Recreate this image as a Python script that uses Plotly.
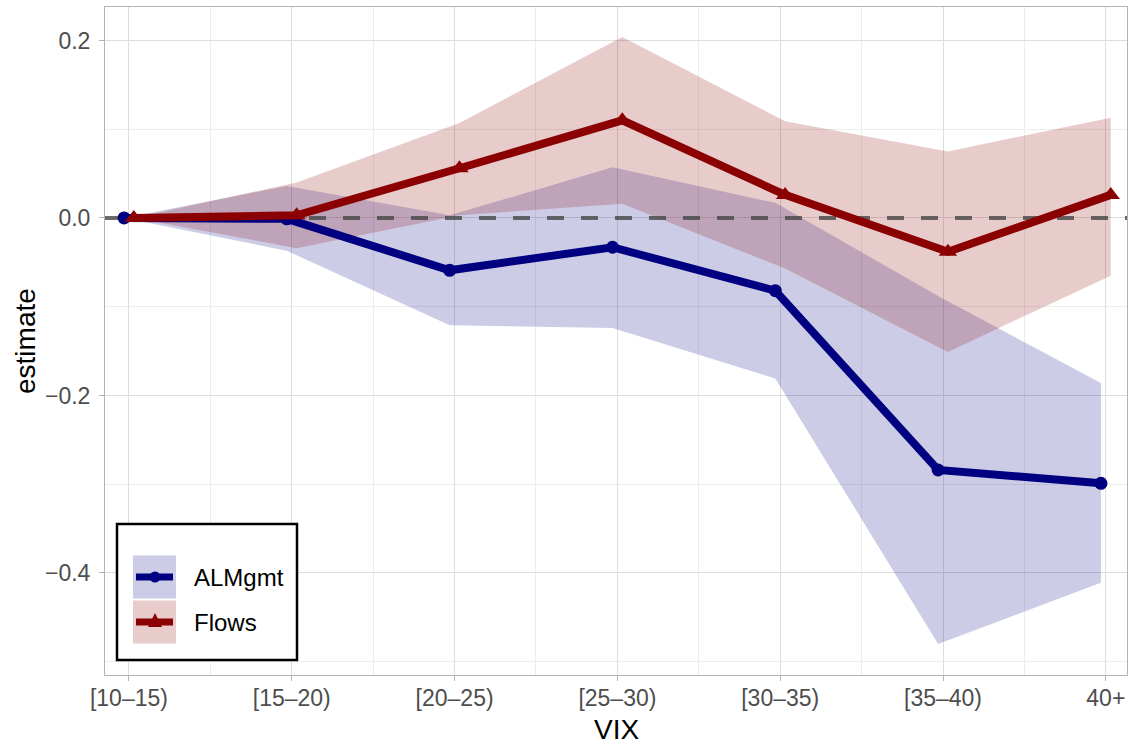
import plotly.graph_objects as go

# ---------------- data ----------------
categories = ["[10–15)", "[15–20)", "[20–25)", "[25–30)", "[30–35)", "[35–40)", "40+"]

alm_est = [0.0, -0.001, -0.059, -0.033, -0.082, -0.284, -0.299]
alm_lo = [0.0, -0.037, -0.121, -0.124, -0.181, -0.480, -0.411]
alm_hi = [0.0, 0.036, 0.003, 0.057, 0.017, -0.088, -0.186]

flows_est = [0.0, 0.003, 0.056, 0.110, 0.026, -0.038, 0.026]
flows_lo = [0.0, -0.034, 0.003, 0.016, -0.057, -0.151, -0.065]
flows_hi = [0.0, 0.040, 0.107, 0.204, 0.109, 0.075, 0.113]

series_names = ["ALMgmt", "Flows"]
reference_line = 0.0
x_title = "VIX"
y_title = "estimate"

# ---------------- style ----------------
W, H = 1128, 746
ML, MR, MT, MB = 105, 1, 7, 71
NAVY = "#000080"
DARKRED = "#8B0000"
NAVY_FILL = "rgba(0,0,128,0.2)"
RED_FILL = "rgba(139,0,0,0.2)"
NAVY_KEY = "#CCCCE6"
RED_KEY = "#E8CCCC"
FONT = "Liberation Sans, Arial, Helvetica, sans-serif"
dodge = 0.03
x_range = [-0.147, 6.13]
y_range = [-0.515, 0.2377]

idx = list(range(len(categories)))
x_alm = [i - dodge for i in idx]
x_flows = [i + dodge for i in idx]

fig = go.Figure()

# ribbons
fig.add_trace(go.Scatter(
    x=x_alm + x_alm[::-1], y=alm_hi + alm_lo[::-1],
    fill="toself", fillcolor=NAVY_FILL, line=dict(width=0),
    mode="lines", showlegend=False, hoverinfo="skip"))
fig.add_trace(go.Scatter(
    x=x_flows + x_flows[::-1], y=flows_hi + flows_lo[::-1],
    fill="toself", fillcolor=RED_FILL, line=dict(width=0),
    mode="lines", showlegend=False, hoverinfo="skip"))

# reference dashed line (hline at 0)
fig.add_trace(go.Scatter(
    x=x_range, y=[reference_line, reference_line], mode="lines",
    line=dict(color="rgba(70,70,70,0.8)", width=4, dash="17px,17px"),
    showlegend=False, hoverinfo="skip"))

# estimate lines
fig.add_trace(go.Scatter(
    x=x_alm, y=alm_est, mode="lines+markers", name=series_names[0],
    line=dict(color=NAVY, width=8),
    marker=dict(symbol="circle", size=13, color=NAVY),
    showlegend=False))
fig.add_trace(go.Scatter(
    x=x_flows, y=flows_est, mode="lines+markers", name=series_names[1],
    line=dict(color=DARKRED, width=8),
    marker=dict(symbol="triangle-up", size=16, color=DARKRED),
    showlegend=False))

# ---------------- manual legend (layout shapes) ----------------
PW = W - ML - MR
PH = H - MT - MB


def px(xpix):
    return (xpix - ML) / PW


def py(ypix):
    return (H - MB - ypix) / PH


shapes = []
shapes.append(dict(type="rect", xref="paper", yref="paper",
                   x0=px(117), x1=px(297), y0=py(660), y1=py(524),
                   line=dict(color="black", width=2.5), fillcolor="white",
                   layer="above"))
key_rows = [(577, NAVY_KEY, NAVY, "circle"), (622, RED_KEY, DARKRED, "triangle")]
for cy, keyfill, col, sym in key_rows:
    shapes.append(dict(type="rect", xref="paper", yref="paper",
                       x0=px(133), x1=px(176), y0=py(cy + 21.5), y1=py(cy - 21.5),
                       line=dict(width=0), fillcolor=keyfill, layer="above"))
    shapes.append(dict(type="line", xref="paper", yref="paper",
                       x0=px(136), x1=px(173), y0=py(cy), y1=py(cy),
                       line=dict(color=col, width=7), layer="above"))
    if sym == "circle":
        shapes.append(dict(type="circle", xref="paper", yref="paper",
                           x0=px(149.5), x1=px(160.5), y0=py(cy + 5.5), y1=py(cy - 5.5),
                           line=dict(width=0), fillcolor=col, layer="above"))
    else:
        path = "M {:.5f} {:.5f} L {:.5f} {:.5f} L {:.5f} {:.5f} Z".format(
            px(148), py(cy + 5), px(162), py(cy + 5), px(155), py(cy - 9))
        shapes.append(dict(type="path", xref="paper", yref="paper", path=path,
                           line=dict(width=0), fillcolor=col, layer="above"))

annotations = []
for (cy, _, _, _), name in zip(key_rows, series_names):
    annotations.append(dict(xref="paper", yref="paper", x=px(192), y=py(cy),
                            text=name, showarrow=False, xanchor="left", yanchor="middle",
                            font=dict(family=FONT, size=24, color="black")))

# axis titles
annotations.append(dict(xref="paper", yref="paper", x=px(616), y=py(729),
                        text=x_title, showarrow=False, xanchor="center", yanchor="middle",
                        font=dict(family=FONT, size=28, color="black")))
annotations.append(dict(xref="paper", yref="paper", x=px(25), y=py(341),
                        text=y_title, showarrow=False, xanchor="center", yanchor="middle",
                        textangle=-90,
                        font=dict(family=FONT, size=28, color="black")))

fig.update_layout(
    width=W, height=H,
    margin=dict(l=ML, r=MR, t=MT, b=MB, pad=0, autoexpand=False),
    plot_bgcolor="white", paper_bgcolor="white",
    font=dict(family=FONT),
    shapes=shapes, annotations=annotations,
    showlegend=False,
)

fig.update_xaxes(
    range=x_range, tickmode="array", tickvals=idx, ticktext=categories,
    showgrid=True, gridcolor="#DEDEDE", gridwidth=1,
    minor=dict(tickmode="linear", tick0=0.5, dtick=1, showgrid=True,
               gridcolor="#EDEDED", gridwidth=0.7, ticks=""),
    ticks="outside", ticklen=5, tickcolor="#B3B3B3", tickwidth=1,
    zeroline=False, showline=True, linecolor="#B3B3B3", linewidth=1, mirror=True,
    tickfont=dict(family=FONT, size=23, color="#4D4D4D"),
    ticklabelstandoff=-3,
    automargin=False,
)
fig.update_yaxes(
    range=y_range, tickmode="linear", tick0=0, dtick=0.2, tickformat=".1f",
    showgrid=True, gridcolor="#DEDEDE", gridwidth=1,
    minor=dict(tickmode="linear", tick0=0.1, dtick=0.2, showgrid=True,
               gridcolor="#EDEDED", gridwidth=0.7, ticks=""),
    ticks="outside", ticklen=5, tickcolor="#B3B3B3", tickwidth=1,
    zeroline=False, showline=True, linecolor="#B3B3B3", linewidth=1, mirror=True,
    tickfont=dict(family=FONT, size=23, color="#4D4D4D"),
    ticklabelstandoff=4,
    automargin=False,
)

# the page is exactly the figure size: drop the default 8px body margin
fig.write_html("out.html",
               config={"displayModeBar": False},
               post_script="document.body.style.margin='0';document.body.style.overflow='hidden';")
